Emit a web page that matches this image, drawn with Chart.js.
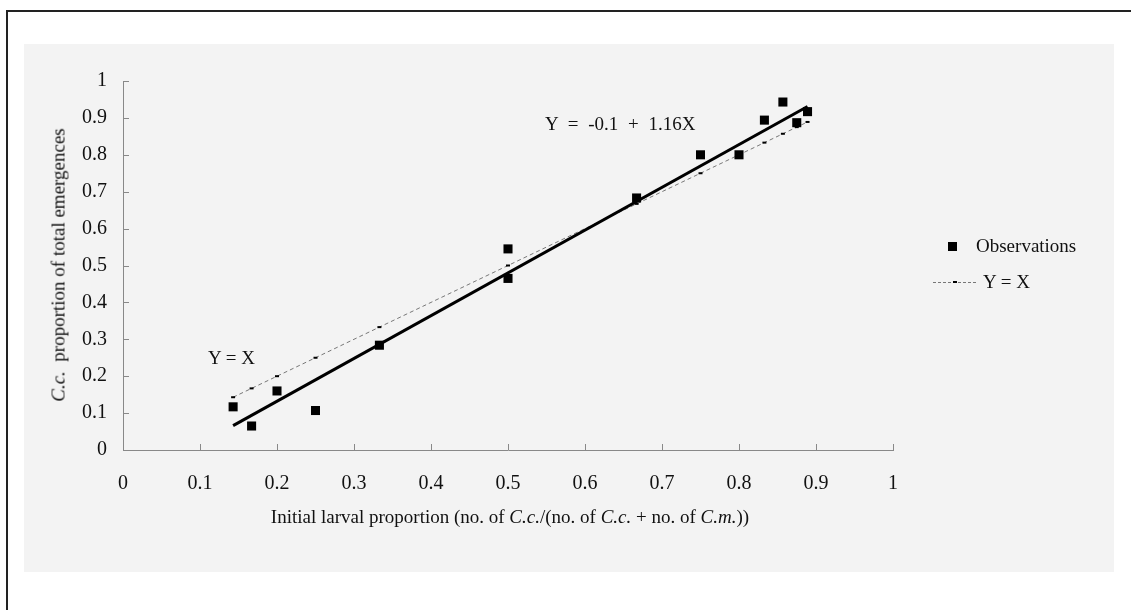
<!DOCTYPE html>
<html>
<head>
<meta charset="utf-8">
<script src="https://cdn.jsdelivr.net/npm/chart.js@4/dist/chart.umd.min.js"></script>
<style>
  body { margin: 0; background: #fff; font-family: "Liberation Serif", "DejaVu Serif", serif; color: #111; }
  #wrap { position: relative; width: 1131px; height: 610px; overflow: hidden; }
  .frame-top { position: absolute; left: 7px; top: 10px; width: 1124px; height: 2px; background: #222; }
  .frame-left { position: absolute; left: 6px; top: 10px; width: 2px; height: 600px; background: #222; }
  .paper { position: absolute; left: 24px; top: 44px; width: 1090px; height: 528px; background: #f3f3f3; }
  canvas { position: absolute; left: 0; top: 0; }
  .txt { position: absolute; white-space: nowrap; font-size: 19px; line-height: 1; }
  #ytitle { left: 58px; top: 265px; transform: translate(-50%, -50%) rotate(-90deg); }
  #xtitle { left: 510px; top: 516px; transform: translate(-50%, -50%); }
  #eq { left: 545px; top: 123px; transform: translateY(-50%); word-spacing: 5px; }
  #yx { left: 208px; top: 357px; transform: translateY(-50%); }
  .legend-row { position: absolute; display: flex; align-items: center; font-size: 19px; }
  .sq { width: 9px; height: 9px; background: #000; }
  .dash { position: relative; width: 43px; height: 0; border-top: 1px dashed #777; }
  .dash::after { content: ""; position: absolute; left: 20px; top: -2px; width: 4px; height: 2px; background: #000; }
</style>
</head>
<body>
<div id="wrap">
  <div class="frame-top"></div>
  <div class="frame-left"></div>
  <div class="paper"></div>
  <canvas id="chart" width="1131" height="610"></canvas>
  <div class="txt" id="ytitle"><i>C.c.</i>&nbsp; proportion of total emergences</div>
  <div class="txt" id="xtitle">Initial larval proportion (no. of <i>C.c.</i>/(no. of <i>C.c.</i> + no. of <i>C.m.</i>))</div>
  <div class="txt" id="eq">Y = -0.1 + 1.16X</div>
  <div class="txt" id="yx">Y = X</div>
  <div class="legend-row" style="left:948px; top:235px;"><div class="sq"></div><span style="margin-left:19px">Observations</span></div>
  <div class="legend-row" style="left:933px; top:271px;"><div class="dash"></div><span style="margin-left:7px">Y = X</span></div>
</div>
<script>
// observations (initial larval proportion vs C.c. proportion of emergences)
const obsX = [0.143, 0.167, 0.2, 0.25, 0.333, 0.5, 0.5, 0.667, 0.75, 0.8, 0.833, 0.857, 0.875, 0.889];
const obsY = [0.117, 0.065, 0.16, 0.107, 0.284, 0.465, 0.545, 0.683, 0.8, 0.8, 0.894, 0.943, 0.887, 0.917];

// Y = X reference line
const refX = [0.143, 0.167, 0.2, 0.25, 0.333, 0.5, 0.667, 0.75, 0.8, 0.833, 0.857, 0.875, 0.889];
const refY = [0.143, 0.167, 0.2, 0.25, 0.333, 0.5, 0.667, 0.75, 0.8, 0.833, 0.857, 0.875, 0.889];

// fitted line Y = -0.1 + 1.16X
const fitX = [0.143, 0.889];
const fitY = [0.066, 0.931];

const xTicks = [0, 0.1, 0.2, 0.3, 0.4, 0.5, 0.6, 0.7, 0.8, 0.9, 1];
const yTicks = [0, 0.1, 0.2, 0.3, 0.4, 0.5, 0.6, 0.7, 0.8, 0.9, 1];

const toPoints = (xs, ys) => xs.map((x, i) => ({ x, y: ys[i] }));

// ticks drawn inward, like the original
const innerTicks = {
  id: "innerTicks",
  afterDraw(chart) {
    const { ctx, scales: { x, y } } = chart;
    ctx.save();
    ctx.strokeStyle = "#888";
    ctx.lineWidth = 1;
    ctx.beginPath();
    xTicks.slice(1).forEach((v) => {
      const px = Math.round(x.getPixelForValue(v)) + 0.5;
      ctx.moveTo(px, y.bottom);
      ctx.lineTo(px, y.bottom - 6);
    });
    yTicks.slice(1).forEach((v) => {
      const py = Math.round(y.getPixelForValue(v)) + 0.5;
      ctx.moveTo(x.left, py);
      ctx.lineTo(x.left + 6, py);
    });
    ctx.stroke();
    ctx.restore();
  },
};

const font = { family: "'Liberation Serif', serif", size: 20 };

new Chart(document.getElementById("chart").getContext("2d"), {
  type: "scatter",
  data: {
    datasets: [
      {
        label: "Observations",
        data: toPoints(obsX, obsY),
        pointStyle: "rect",
        pointRadius: 6.4,
        backgroundColor: "#000",
        borderColor: "#000",
        borderWidth: 0,
        order: 0,
      },
      {
        label: "Fit",
        type: "line",
        data: toPoints(fitX, fitY),
        borderColor: "#000",
        borderWidth: 3,
        pointRadius: 0,
        order: 1,
      },
      {
        label: "Y = X",
        type: "line",
        data: toPoints(refX, refY),
        borderColor: "#777",
        borderWidth: 1,
        borderDash: [4, 3],
        pointStyle: "line",
        pointRadius: 2,
        pointBorderWidth: 2,
        pointBorderColor: "#000",
        order: 2,
      },
    ],
  },
  options: {
    responsive: false,
    animation: false,
    layout: { padding: { top: 81, right: 238, bottom: 0, left: 0 } },
    plugins: { legend: { display: false }, tooltip: { enabled: false } },
    scales: {
      x: {
        type: "linear",
        min: 0,
        max: 1,
        afterFit: (s) => { s.height = 160; },
        afterBuildTicks: (s) => { s.ticks = xTicks.map((v) => ({ value: v })); },
        ticks: { color: "#111", font, padding: 22, callback: (v) => String(+v.toFixed(1)), maxRotation: 0 },
        grid: { display: false, drawTicks: false },
        border: { color: "#888", width: 1 },
      },
      y: {
        type: "linear",
        min: 0,
        max: 1,
        afterFit: (s) => { s.width = 123; },
        afterBuildTicks: (s) => { s.ticks = yTicks.map((v) => ({ value: v })); },
        ticks: { color: "#111", font, padding: 16, callback: (v) => String(+v.toFixed(1)) },
        grid: { display: false, drawTicks: false },
        border: { color: "#888", width: 1 },
      },
    },
  },
  plugins: [innerTicks],
});
</script>
</body>
</html>
